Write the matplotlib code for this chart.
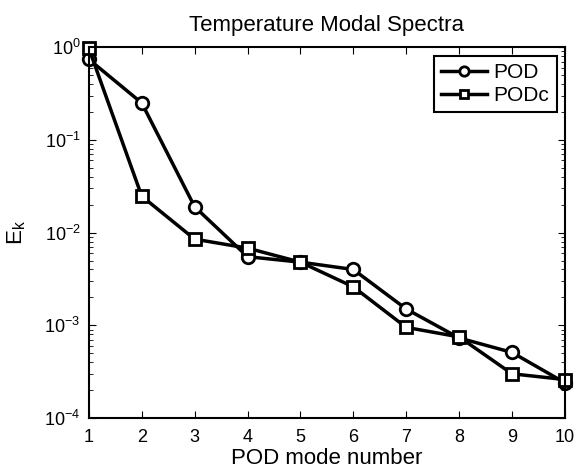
import numpy as np
import matplotlib
matplotlib.use("Agg")
import matplotlib.pyplot as plt

plt.rcParams["font.family"] = ["Liberation Sans", "DejaVu Sans"]

modes = [1, 2, 3, 4, 5, 6, 7, 8, 9, 10]
pod = [0.74, 0.25, 0.019, 0.0055, 0.0048, 0.0040, 0.0015, 0.00073, 0.00051, 0.00024]
podc = [0.97, 0.0247, 0.0085, 0.0068, 0.0048, 0.0026, 0.00095, 0.00075, 0.00030, 0.00026]

fig = plt.figure(figsize=(5.77, 4.70), dpi=100)
ax = fig.add_axes([0.154, 0.1106, 0.825, 0.789])

ax.semilogy(modes, pod, color="black", linewidth=2.5, marker="o", clip_on=False,
            markersize=9, markerfacecolor="white", markeredgewidth=2, label="POD")
ax.semilogy(modes, podc, color="black", linewidth=2.5, marker="s", clip_on=False,
            markersize=8, markerfacecolor="white", markeredgewidth=2, label="PODc")

ax.set_xlim(1, 10)
ax.set_ylim(1e-4, 1e0)
ax.set_xticks(modes)
ax.set_yticks([1e-4, 1e-3, 1e-2, 1e-1, 1e0])
ax.tick_params(which="both", direction="in", top=True, right=True, labelsize=13)
ax.tick_params(axis="x", pad=8)
ax.tick_params(axis="y", pad=6)
ax.tick_params(which="major", length=5)
ax.tick_params(which="minor", length=3)
for s in ax.spines.values():
    s.set_linewidth(1.5)

ax.set_title("Temperature Modal Spectra", fontsize=16, pad=12)
ax.set_xlabel("POD mode number", fontsize=16, labelpad=1)
ax.set_ylabel("E$_\\mathregular{k}$", fontsize=16, labelpad=12)

leg = ax.legend(loc="upper right", fontsize=15, fancybox=False, framealpha=1,
                edgecolor="black", handlelength=2.2, markerscale=0.75,
                borderaxespad=0.4, handletextpad=0.3, labelspacing=0.2,
                borderpad=0.35)
leg.get_frame().set_linewidth(1.5)

fig.savefig("out.png", dpi=100)
